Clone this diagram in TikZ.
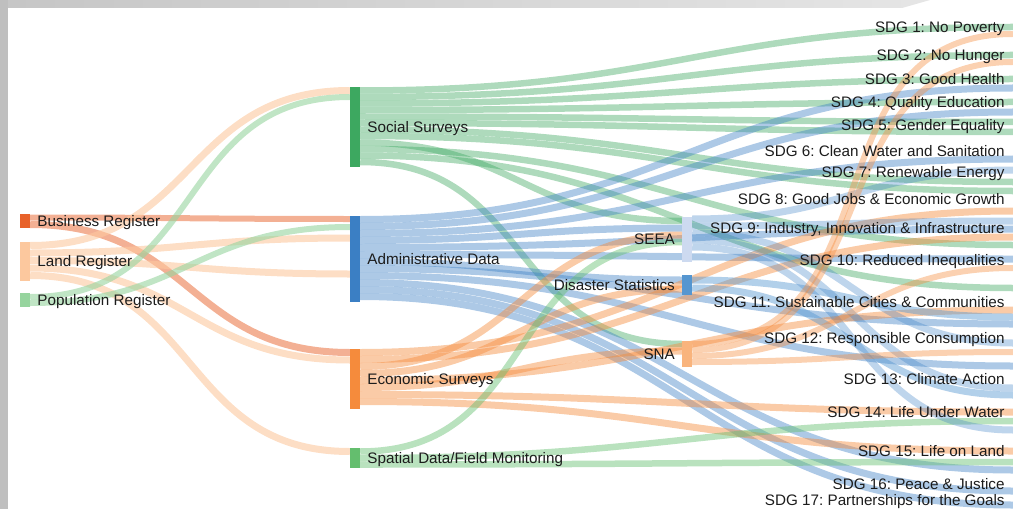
\documentclass[tikz,border=0pt]{standalone}
\usepackage{fontspec}
\setmainfont{Liberation Sans}
\usetikzlibrary{positioning}
\frenchspacing

\definecolor{bizc}{RGB}{232,98,42}
\definecolor{landc}{RGB}{252,200,158}
\definecolor{popc}{RGB}{150,212,158}
\definecolor{ssc}{RGB}{61,168,96}
\definecolor{admc}{RGB}{59,127,196}
\definecolor{ecoc}{RGB}{245,139,60}
\definecolor{spac}{RGB}{100,190,110}
\definecolor{seeac}{RGB}{205,218,240}
\definecolor{disc}{RGB}{85,150,208}
\definecolor{snac}{RGB}{249,180,125}
\definecolor{txtc}{RGB}{28,28,28}

\pgfdeclarelayer{flows}
\pgfsetlayers{flows,main}

% band from one bar to the next, y values in px
\newcommand{\flow}[6]{%
  \draw[#1, line width=#2*0.03cm] (#3.east |- 0,#4) to[out=0, in=180, looseness=1.2] (#5.west |- 0,#6);
}

\begin{document}
\begin{tikzpicture}[x=0.03cm, y=-0.03cm,
    bar/.style={rectangle, inner sep=0pt, minimum width=0.3cm},
    sdgend/.style={inner sep=0pt, minimum size=0pt},
    lbl/.style={inner sep=0pt, text=txtc, font=\fontsize{13}{15}\selectfont, text height=9.3pt, text depth=0pt},
    bzf/.style={draw=bizc, opacity=0.5},
    landf/.style={draw=landc, opacity=0.6},
    popf/.style={draw=popc, opacity=0.6},
    ssf/.style={draw=ssc, opacity=0.42},
    admf/.style={draw=admc, opacity=0.42},
    ecof/.style={draw=ecoc, opacity=0.45},
    spaf/.style={draw=spac, opacity=0.45},
    seeaf/.style={draw=admc, opacity=0.33},
    disf/.style={draw=disc, opacity=0.45},
    snaf/.style={draw=ecoc, opacity=0.4}]

    \useasboundingbox (0,0) rectangle (1013,509);

    \shade[left color=gray!45, right color=gray!20] (0,0) -- (930,0) -- (902,8) -- (0,8) -- cycle;
    \fill[gray!50] (0,0) rectangle (8,509);

    \node[bar, fill=bizc, minimum height=0.42cm] (bz) at (25,221) {};
    \node[bar, fill=landc, minimum height=1.17cm] (land) at (25,261.5) {};
    \node[bar, fill=popc, minimum height=0.42cm] (pop) at (25,300) {};

    \node[bar, fill=ssc, minimum height=2.4cm] (ss) at (355,127) {};
    \node[bar, fill=admc, minimum height=2.58cm] (adm) at (355,259) {};
    \node[bar, fill=ecoc, minimum height=1.8cm] (eco) at (355,379) {};
    \node[bar, fill=spac, minimum height=0.6cm] (spa) at (355,458) {};

    \node[bar, fill=seeac, minimum height=1.35cm] (seea) at (687,239.5) {};
    \node[bar, fill=disc, minimum height=0.6cm] (dis) at (687,285) {};
    \node[bar, fill=snac, minimum height=0.78cm] (sna) at (687,354) {};

    \node[sdgend] (sdg1) at (1013,27) {};
    \node[sdgend] (sdg2) at (1013,55) {};
    \node[sdgend] (sdg3) at (1013,79) {};
    \node[sdgend] (sdg4) at (1013,102) {};
    \node[sdgend] (sdg5) at (1013,125) {};
    \node[sdgend] (sdg6) at (1013,151) {};
    \node[sdgend] (sdg7) at (1013,172) {};
    \node[sdgend] (sdg8) at (1013,199) {};
    \node[sdgend] (sdg9) at (1013,228) {};
    \node[sdgend] (sdg10) at (1013,260) {};
    \node[sdgend] (sdg11) at (1013,302) {};
    \node[sdgend] (sdg12) at (1013,338) {};
    \node[sdgend] (sdg13) at (1013,379) {};
    \node[sdgend] (sdg14) at (1013,412) {};
    \node[sdgend] (sdg15) at (1013,451) {};
    \node[sdgend] (sdg16) at (1013,484) {};
    \node[sdgend] (sdg17) at (1013,500) {};

    \begin{pgfonlayer}{flows}
    \flow{bzf}{6}{bz}{217.5}{adm}{219}
    \flow{bzf}{7}{bz}{224.5}{eco}{352.5}
    \flow{landf}{7}{land}{245.5}{ss}{90.5}
    \flow{landf}{7}{land}{253}{adm}{238}
    \flow{landf}{7}{land}{260.5}{adm}{274}
    \flow{landf}{7}{land}{268}{eco}{360}
    \flow{landf}{7}{land}{275.5}{spa}{451.5}
    \flow{popf}{6}{pop}{297}{ss}{97}
    \flow{popf}{6}{pop}{303}{adm}{227}

    \flow{ssf}{6.5}{ss}{90.5}{sdg1}{27}
    \flow{ssf}{6.5}{ss}{97}{sdg2}{55}
    \flow{ssf}{6.5}{ss}{103.5}{sdg3}{79}
    \flow{ssf}{6.5}{ss}{110}{sdg4}{102}
    \flow{ssf}{6.5}{ss}{116.5}{sdg5}{122}
    \flow{ssf}{6.5}{ss}{123}{sdg6}{132}
    \flow{ssf}{6.5}{ss}{129.5}{sdg7}{182}
    \flow{ssf}{6.5}{ss}{136}{sdg8}{191}
    \flow{ssf}{6.5}{ss}{142.5}{seea}{221}
    \flow{ssf}{6.5}{ss}{149}{sdg9}{245}
    \flow{ssf}{6.5}{ss}{155.5}{sdg10}{288}
    \flow{ssf}{6.5}{ss}{162}{sna}{344}

    \flow{admf}{7}{adm}{219.5}{sdg3}{88}
    \flow{admf}{7}{adm}{226.5}{sdg4}{112}
    \flow{admf}{7}{adm}{233.5}{sdg6}{159}
    \flow{admf}{7}{adm}{240.5}{seea}{228}
    \flow{admf}{7}{adm}{247.5}{sdg9}{229}
    \flow{admf}{7}{adm}{254.5}{sdg10}{259}
    \flow{admf}{7}{adm}{261.5}{dis}{280}
    \flow{admf}{7}{adm}{268.5}{sdg11}{324}
    \flow{admf}{7}{adm}{275.5}{sdg12}{366}
    \flow{admf}{7}{adm}{282.5}{sdg15}{470}
    \flow{admf}{7}{adm}{289.5}{sdg16}{491}
    \flow{admf}{7}{adm}{296.5}{sdg17}{505}

    \flow{ecof}{7}{eco}{352.5}{sdg8}{211}
    \flow{ecof}{7}{eco}{359.5}{sdg9}{237}
    \flow{ecof}{7}{eco}{366.5}{seea}{235}
    \flow{ecof}{7}{eco}{373.5}{dis}{289}
    \flow{ecof}{7}{eco}{380.5}{sdg11}{310}
    \flow{ecof}{7}{eco}{387.5}{sna}{351}
    \flow{ecof}{7}{eco}{394.5}{sdg14}{412}
    \flow{ecof}{7}{eco}{401.5}{sdg15}{451}

    \flow{spaf}{6.5}{spa}{451.5}{seea}{242}
    \flow{spaf}{6.5}{spa}{458}{sdg14}{421}
    \flow{spaf}{6.5}{spa}{464.5}{sdg15}{462}

    \flow{seeaf}{7}{seea}{219}{sdg7}{170}
    \flow{seeaf}{7}{seea}{226}{sdg9}{221}
    \flow{seeaf}{7}{seea}{233}{sdg12}{343}
    \flow{seeaf}{7}{seea}{240}{sdg13}{388}
    \flow{seeaf}{7}{seea}{247}{sdg14}{430}

    \flow{disf}{7}{dis}{280}{sdg11}{317}
    \flow{disf}{7}{dis}{288}{sdg13}{395}

    \flow{snaf}{6}{sna}{344}{sdg1}{34}
    \flow{snaf}{6}{sna}{350}{sdg2}{62}
    \flow{snaf}{6}{sna}{356}{sdg10}{268}
    \flow{snaf}{6}{sna}{362}{sdg12}{352}
    \end{pgfonlayer}

    \node[lbl, right=0.21cm of bz] (bzl) {Business Register};
    \node[lbl, right=0.21cm of land] (landl) {Land Register};
    \node[lbl, right=0.21cm of pop] (popl) {Population Register};

    \node[lbl, right=0.21cm of ss] (ssl) {Social Surveys};
    \node[lbl, right=0.21cm of adm] (adml) {Administrative Data};
    \node[lbl, right=0.21cm of eco] (ecol) {Economic Surveys};
    \node[lbl, right=0.21cm of spa] (spal) {Spatial Data/Field Monitoring};

    \node[lbl, left=0.2cm of seea] (seeal) {SEEA};
    \node[lbl, left=0.2cm of dis] (disl) {Disaster Statistics};
    \node[lbl, left=0.2cm of sna] (snal) {SNA};

    \node[lbl, left=0.24cm of sdg1] (sdg1l) {SDG 1: No Poverty};
    \node[lbl, left=0.24cm of sdg2] (sdg2l) {SDG 2: No Hunger};
    \node[lbl, left=0.24cm of sdg3] (sdg3l) {SDG 3: Good Health};
    \node[lbl, left=0.24cm of sdg4] (sdg4l) {SDG 4: Quality Education};
    \node[lbl, left=0.24cm of sdg5] (sdg5l) {SDG 5: Gender Equality};
    \node[lbl, left=0.24cm of sdg6] (sdg6l) {SDG 6: Clean Water and Sanitation};
    \node[lbl, left=0.24cm of sdg7] (sdg7l) {SDG 7: Renewable Energy};
    \node[lbl, left=0.24cm of sdg8] (sdg8l) {SDG 8: Good Jobs \& Economic Growth};
    \node[lbl, left=0.24cm of sdg9] (sdg9l) {SDG 9: Industry, Innovation \& Infrastructure};
    \node[lbl, left=0.24cm of sdg10] (sdg10l) {SDG 10: Reduced Inequalities};
    \node[lbl, left=0.24cm of sdg11] (sdg11l) {SDG 11: Sustainable Cities \& Communities};
    \node[lbl, left=0.24cm of sdg12] (sdg12l) {SDG 12: Responsible Consumption};
    \node[lbl, left=0.24cm of sdg13] (sdg13l) {SDG 13: Climate Action};
    \node[lbl, left=0.24cm of sdg14] (sdg14l) {SDG 14: Life Under Water};
    \node[lbl, left=0.24cm of sdg15] (sdg15l) {SDG 15: Life on Land};
    \node[lbl, left=0.24cm of sdg16] (sdg16l) {SDG 16: Peace \& Justice};
    \node[lbl, left=0.24cm of sdg17] (sdg17l) {SDG 17: Partnerships for the Goals};

\end{tikzpicture}
\end{document}
